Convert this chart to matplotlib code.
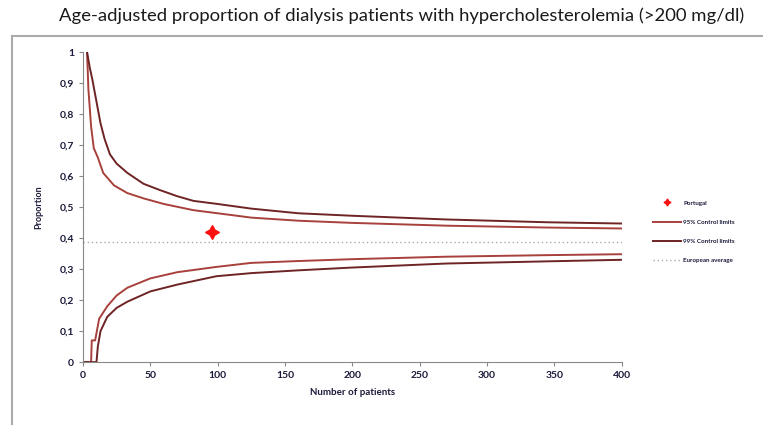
import matplotlib
matplotlib.use("Agg")
import matplotlib.pyplot as plt
from matplotlib.patches import Rectangle

plt.rcParams['font.family'] = ['Lato', 'DejaVu Sans']

# upper 99% control limit (dark)
n_up99 = [3, 5, 7, 10, 13, 16, 20, 25, 33, 45, 57, 70, 82, 100, 125, 160, 200, 270, 345, 400]
up99 = [1.0, 0.95, 0.91, 0.84, 0.77, 0.72, 0.67, 0.64, 0.61, 0.575, 0.555, 0.535, 0.52, 0.51, 0.495, 0.48, 0.472, 0.46, 0.451, 0.447]

# upper 95% control limit (light)
n_up95 = [3, 4, 6, 8, 11, 15, 23, 33, 45, 60, 82, 100, 125, 160, 200, 270, 345, 400]
up95 = [1.0, 0.88, 0.76, 0.69, 0.66, 0.61, 0.57, 0.545, 0.528, 0.51, 0.49, 0.48, 0.466, 0.456, 0.449, 0.44, 0.434, 0.431]

# lower 95% control limit (light)
n_lo95 = [1, 6, 6.5, 9, 12, 15, 18, 25, 33, 50, 70, 99, 125, 160, 200, 270, 345, 400]
lo95 = [0, 0, 0.07, 0.07, 0.14, 0.16, 0.18, 0.215, 0.24, 0.27, 0.29, 0.307, 0.32, 0.326, 0.332, 0.34, 0.345, 0.348]

# lower 99% control limit (dark)
n_lo99 = [1, 10, 11, 13, 18, 25, 33, 50, 70, 99, 125, 160, 200, 270, 345, 400]
lo99 = [0, 0, 0.05, 0.10, 0.146, 0.175, 0.195, 0.228, 0.25, 0.277, 0.287, 0.296, 0.305, 0.318, 0.325, 0.33]

euro_avg = 0.386
portugal_n = 96
portugal_p = 0.42

c95 = "#a8403c"
c99 = "#6e2424"

fig = plt.figure(figsize=(7.63, 4.25), dpi=100)
ax = fig.add_axes([0.1088, 0.148, 0.706, 0.7295])

ax.plot([0, 400], [euro_avg, euro_avg], color="#aaaaaa", lw=1, ls=(0, (1, 2)), label="European average")
ax.plot(n_up95, up95, color=c95, lw=1.4, label="95% Control limits")
ax.plot(n_lo95, lo95, color=c95, lw=1.4)
ax.plot(n_up99, up99, color=c99, lw=1.4, label="99% Control limits")
ax.plot(n_lo99, lo99, color=c99, lw=1.4)
ax.plot([portugal_n], [portugal_p], ls="none", marker=(4, 1, 0), ms=10, color="#ff1010", label="Portugal")

ax.set_xlim(0, 400)
ax.set_ylim(0, 1)
ax.set_xticks(range(0, 401, 50))
yt = [i / 10 for i in range(11)]
ax.set_yticks(yt)
ax.set_yticklabels(["0" if v == 0 else ("1" if v == 1 else f"{v:.1f}".replace(".", ",")) for v in yt])
for s in ["top", "right"]:
    ax.spines[s].set_visible(False)
for s in ["left", "bottom"]:
    ax.spines[s].set_color("#888888")
ax.tick_params(colors="#888888", labelcolor="#1a1a3a", labelsize=7.5, length=3)
for lab in ax.get_xticklabels() + ax.get_yticklabels():
    lab.set_fontweight("bold")

ax.set_xlabel("Number of patients", fontsize=7, fontweight="bold", color="#1a1a3a", labelpad=6)
ax.set_ylabel("Proportion", fontsize=6.5, fontweight="bold", color="#1a1a3a", labelpad=12)

h, l = ax.get_legend_handles_labels()
order = [3, 1, 2, 0]
leg = fig.legend([h[i] for i in order], [l[i] for i in order], loc="center left",
                 bbox_to_anchor=(0.848, 0.455), frameon=False, fontsize=4.5,
                 handlelength=4.5, labelspacing=2.2, handletextpad=0.4, markerscale=0.5)
for t in leg.get_texts():
    t.set_fontweight("bold")
    t.set_color("#1a1a3a")

fig.text(0.526, 0.962, "Age-adjusted proportion of dialysis patients with hypercholesterolemia (>200 mg/dl)",
         ha="center", va="center", fontsize=13.3, color="#1a1a1a")

fig.add_artist(Rectangle((0.0157, -0.1), 1.1, 1.015, transform=fig.transFigure,
                         fill=False, edgecolor="#aaaaaa", lw=1.5))

fig.savefig("out.png", dpi=100)
